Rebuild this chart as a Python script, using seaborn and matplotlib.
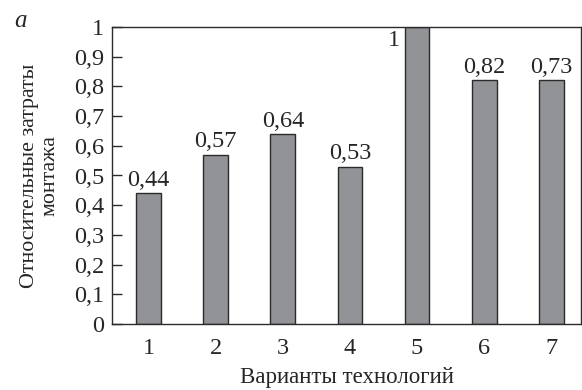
import numpy as np
import pandas as pd
import seaborn as sns
import matplotlib.pyplot as plt

# data
variants = ["1", "2", "3", "4", "5", "6", "7"]
costs = [0.44, 0.57, 0.64, 0.53, 1.0, 0.82, 0.82]
value_labels = ["0,44", "0,57", "0,64", "0,53", "1", "0,82", "0,73"]
yticks = [0, 0.1, 0.2, 0.3, 0.4, 0.5, 0.6, 0.7, 0.8, 0.9, 1.0]
ytick_labels = ["0", "0,1", "0,2", "0,3", "0,4", "0,5", "0,6", "0,7", "0,8", "0,9", "1"]

sns.set_style("white")
plt.rcParams['font.family'] = ['Liberation Serif', 'DejaVu Serif']

df = pd.DataFrame({"variant": variants, "cost": costs})

fig = plt.figure(figsize=(5.82, 3.90), dpi=100)
ax = fig.add_axes([0.193, 0.169, 0.805, 0.762])

sns.barplot(data=df, x="variant", y="cost", ax=ax, width=0.37,
            color="#929396", saturation=1, edgecolor="#2b2b2b", linewidth=1.0)

fs = 17.5
ax.set_xlim(-0.54, 6.44)
ax.set_ylim(0, 1)
ax.set_yticks(yticks)
ax.set_yticklabels(ytick_labels, fontsize=fs)
ax.set_xticks(range(len(variants)))
ax.set_xticklabels(variants, fontsize=fs)
ax.set_xticks(np.arange(len(variants) - 1) + 0.5, minor=True)
ax.tick_params(axis="x", which="major", length=0, pad=10)
ax.tick_params(axis="x", which="minor", direction="in", length=7, width=1, color="#2b2b2b")
ax.tick_params(axis="y", direction="in", length=7, width=1, color="#2b2b2b", pad=6, left=True)

for sp in ax.spines.values():
    sp.set_visible(True)
    sp.set_color("#2b2b2b")
    sp.set_linewidth(1.0)

# value labels
for i, (v, lab) in enumerate(zip(costs, value_labels)):
    if v >= 1.0:
        ax.text(i - 0.37 / 2 - 0.07, 0.955, lab, ha="right", va="center", fontsize=fs)
    else:
        ax.text(i, v + 0.008, lab, ha="center", va="bottom", fontsize=fs)

ax.set_xlabel("Варианты технологий", fontsize=16.5, labelpad=6)
ax.set_ylabel("Относительные затраты\nмонтажа", fontsize=15.8, labelpad=10, linespacing=1.1)

fig.text(0.035, 0.945, "а", fontsize=18, style="italic", ha="center", va="center")

fig.savefig("out.png", dpi=100)
